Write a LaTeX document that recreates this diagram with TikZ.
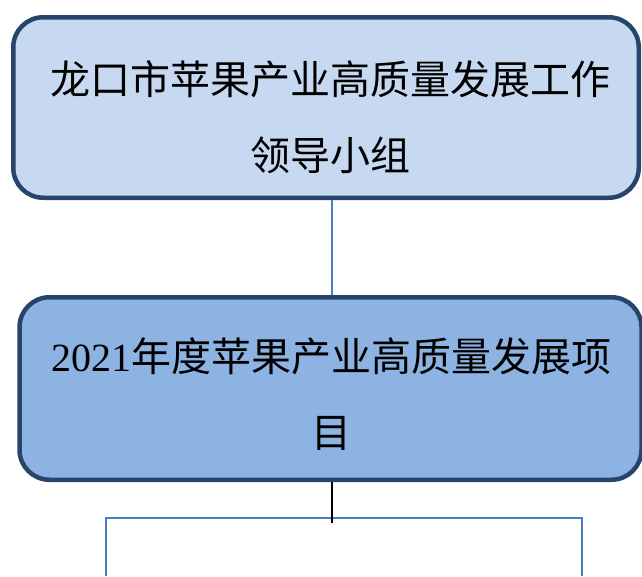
\documentclass[tikz,border=0pt]{standalone}
\usepackage{fontspec}
\setmainfont{Liberation Serif}
\newfontfamily\cjk{Noto Sans CJK SC}
\definecolor{boxline}{HTML}{27456B}
\definecolor{groupfill}{HTML}{C6D9F1}
\definecolor{projfill}{HTML}{8DB3E2}
\definecolor{linkblue}{HTML}{4A7EBB}
\begin{document}
\begin{tikzpicture}[x=1pt,y=-1pt,
    box/.style={draw=boxline, line width=4.5pt, rounded corners=30pt, inner sep=0pt},
    boxtext/.style={align=center, inner sep=0pt, font=\fontsize{40}{76}\selectfont\cjk},
    link/.style={draw=linkblue, line width=2pt}]
  \useasboundingbox (0,0) rectangle (642,576);

  % the two boxes
  \node [box, fill=groupfill, minimum width=625.5pt, minimum height=180.5pt] (group) at (326,107.5) {};
  \node [boxtext] (grouptext) at (330,117.5) {龙口市苹果产业高质量发展工作\\领导小组};

  \node [box, fill=projfill, minimum width=622pt, minimum height=182.5pt] (proj) at (330.5,388.5) {};
  \node [boxtext] (projtext) at (331,394) {{\rmfamily 2021}年度苹果产业高质量发展项\\目};

  % connectors
  \coordinate (stem) at (332,523);
  \coordinate (leftdrop) at (106,518);
  \coordinate (rightdrop) at (582,518);
  \coordinate (leftend) at (106,576);
  \coordinate (rightend) at (582,576);

  \draw [link] (stem |- group.south) -- (stem |- proj.north);
  \draw [link] (leftend) -- (leftdrop) -- (rightdrop) -- (rightend);
  \draw [line width=2pt] (stem |- proj.south) -- (stem);
\end{tikzpicture}
\end{document}
